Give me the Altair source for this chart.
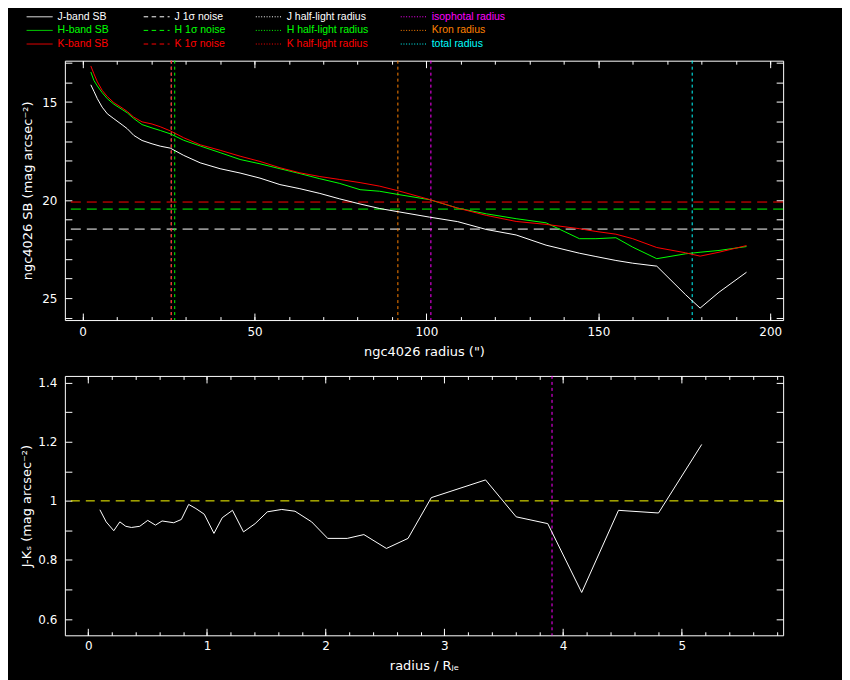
import altair as alt
import pandas as pd

# ---------------- top panel: surface-brightness profiles ----------------
R_SB = [2.4, 3.3, 4.3, 5.7, 7.2, 9.1, 11.5, 13.0, 14.9, 17.3, 20.2, 22.6, 25.5,
        29.4, 34.2, 40.0, 45.8, 51.6, 57.4, 63.2, 69.0, 74.8, 80.7, 86.4, 92.3,
        100.9, 109.1, 117.4, 126.1, 134.8, 144.5, 149.3, 155.1, 160.0, 167.0,
        175.4, 179.6, 185.1, 193.1]
J_SB = [14.12, 14.45, 14.83, 15.26, 15.60, 15.85, 16.16, 16.36, 16.70, 16.96,
        17.13, 17.25, 17.35, 17.72, 18.10, 18.40, 18.62, 18.88, 19.21, 19.42,
        19.66, 19.94, 20.20, 20.43, 20.61, 20.87, 21.10, 21.50, 21.78, 22.30,
        22.71, 22.88, 23.08, 23.22, 23.37, 24.83, 25.51, 24.70, 23.68]
H_SB = [13.47, 13.90, 14.18, 14.52, 14.83, 15.11, 15.38, 15.55, 15.84, 16.15,
        16.32, 16.45, 16.62, 16.95, 17.24, 17.58, 17.93, 18.15, 18.40, 18.65,
        18.91, 19.15, 19.47, 19.55, 19.73, 19.98, 20.41, 20.70, 20.95, 21.16,
        21.97, 21.97, 21.92, 22.40, 22.99, 22.74, 22.66, 22.57, 22.37]
K_SB = [13.16, 13.56, 13.97, 14.40, 14.72, 15.03, 15.30, 15.48, 15.77, 16.01,
        16.12, 16.26, 16.47, 16.82, 17.18, 17.46, 17.76, 18.03, 18.35, 18.61,
        18.80, 18.95, 19.11, 19.29, 19.55, 19.97, 20.41, 20.78, 21.09, 21.24,
        21.46, 21.60, 21.74, 21.97, 22.42, 22.69, 22.86, 22.66, 22.32]

NOISE_BAND = ["J", "H", "K"]
NOISE_LEVEL = [21.48, 20.46, 20.10]

RADIUS_NAMES = ["J half-light radius", "H half-light radius", "K half-light radius",
                "Kron radius", "isophotal radius", "total radius"]
RADIUS_VALUES = [25.8, 26.8, 25.8, 91.7, 101.3, 177.3]

# ---------------- bottom panel: colour profile ----------------
R_NORM = [0.098, 0.151, 0.215, 0.266, 0.316, 0.364, 0.434, 0.501, 0.566, 0.622,
          0.720, 0.784, 0.846, 0.907, 0.977, 1.059, 1.129, 1.215, 1.308, 1.406,
          1.509, 1.630, 1.742, 1.882, 2.017, 2.182, 2.322, 2.512, 2.694, 2.890,
          3.347, 3.605, 3.871, 4.157, 4.467, 4.804, 5.168]
J_MINUS_K = [0.970, 0.929, 0.899, 0.929, 0.914, 0.910, 0.914, 0.934, 0.918, 0.932,
             0.926, 0.937, 0.988, 0.974, 0.955, 0.890, 0.943, 0.968, 0.895, 0.923,
             0.963, 0.971, 0.965, 0.929, 0.873, 0.873, 0.886, 0.839, 0.873, 1.011,
             1.071, 0.946, 0.923, 0.690, 0.968, 0.959, 1.191]
COLOR_REF = [1.0]
ISO_NORM = [3.907]

# ---------------- legend ----------------
LEGEND_LABELS = ["J-band SB", "H-band SB", "K-band SB",
                 "J 1σ noise", "H 1σ noise", "K 1σ noise",
                 "J half-light radius", "H half-light radius", "K half-light radius",
                 "isophotal radius", "Kron radius", "total radius"]
LEGEND_STYLE = ["solid"] * 3 + ["dashed"] * 3 + ["dotted"] * 6
LEGEND_COL = [0, 0, 0, 1, 1, 1, 2, 2, 2, 3, 3, 3]
LEGEND_ROW = [0, 1, 2, 0, 1, 2, 0, 1, 2, 0, 1, 2]

# ---------------- styles ----------------
WHITE, GREEN, RED = "#ffffff", "#00ff00", "#ff0000"
MAGENTA, ORANGE, CYAN, YELLOW = "#ff00ff", "#ff8000", "#00ffff", "#ffff00"
LEGEND_COLORS = [WHITE, GREEN, RED, WHITE, GREEN, RED, WHITE, GREEN, RED,
                 MAGENTA, ORANGE, CYAN]
NOISE_COLORS = [WHITE, GREEN, RED]
RADIUS_COLORS = [WHITE, GREEN, RED, ORANGE, MAGENTA, CYAN]
FONT = "DejaVu Sans"
LEGEND_FONT = "Liberation Sans"
W, H = 720, 260
MAJ, MIN = 7, 3.5
DOT = [3, 3]
DASH = [10, 6]

sb_df = pd.DataFrame({"r": R_SB, "J": J_SB, "H": H_SB, "K": K_SB})
noise_df = pd.DataFrame({"band": NOISE_BAND, "level": NOISE_LEVEL})
rad_df = pd.DataFrame({"name": RADIUS_NAMES, "value": RADIUS_VALUES})
col_df = pd.DataFrame({"x": R_NORM, "jk": J_MINUS_K})
ref_df = pd.DataFrame({"v": COLOR_REF})
iso_df = pd.DataFrame({"v": ISO_NORM})
leg_df = pd.DataFrame({"label": LEGEND_LABELS, "style": LEGEND_STYLE,
                       "col": LEGEND_COL, "row": LEGEND_ROW})


def tick_axis(orient, values, size):
    return alt.Axis(orient=orient, values=values, tickSize=size, offset=-size,
                    labels=False, domain=False, grid=False, title=None,
                    ticks=True, tickColor="white", tickWidth=1)


def label_axis(orient, values, size, title, label_expr, label_pad, title_pad):
    return alt.Axis(orient=orient, values=values, tickSize=size, offset=-size,
                    labels=True, labelExpr=label_expr, format="~f",
                    labelColor="white", labelFont=FONT, labelFontSize=12,
                    labelPadding=label_pad, labelOverlap=False, labelFlush=False,
                    domain=False, grid=False, ticks=True, tickColor="white",
                    tickWidth=1, title=title, titleColor="white", titleFont=FONT,
                    titleFontSize=13, titleFontWeight="normal",
                    titlePadding=title_pad)


# ---------------- top panel ----------------
X_MAJ = [0, 50, 100, 150, 200]
X_MIN = list(range(0, 201, 10))
Y_TICKS = list(range(13, 27))

xs = alt.Scale(domain=[-5.15, 203.75], nice=False, zero=False)
ys = alt.Scale(domain=[12.89, 26.12], reverse=True, nice=False, zero=False)

j_line = alt.Chart(sb_df).mark_line(color=WHITE, strokeWidth=1).encode(
    x=alt.X("r:Q", scale=xs,
            axis=label_axis("bottom", X_MAJ, MAJ, 'ngc4026 radius (")',
                            "datum.label", 6, 9)),
    y=alt.Y("J:Q", scale=ys,
            axis=label_axis("left", Y_TICKS, MAJ, "ngc4026 SB (mag arcsec⁻²)",
                            "datum.value % 5 == 0 ? datum.label : ''", 8, 7)),
)
h_line = alt.Chart(sb_df).mark_line(color=GREEN, strokeWidth=1).encode(
    x=alt.X("r:Q", scale=xs, axis=tick_axis("bottom", X_MIN, MIN)),
    y=alt.Y("H:Q", scale=ys, axis=tick_axis("right", Y_TICKS, MAJ)),
)
k_line = alt.Chart(sb_df).mark_line(color=RED, strokeWidth=1).encode(
    x=alt.X("r:Q", scale=xs, axis=tick_axis("top", X_MAJ, MAJ)),
    y=alt.Y("K:Q", scale=ys, axis=None),
)
noise_rules = alt.Chart(noise_df).mark_rule(strokeWidth=1, strokeDash=DASH).encode(
    y=alt.Y("level:Q", scale=ys, axis=None),
    color=alt.Color("band:N", scale=alt.Scale(domain=NOISE_BAND, range=NOISE_COLORS),
                    legend=None),
)
radius_rules = alt.Chart(rad_df).mark_rule(strokeWidth=1, strokeDash=DOT).encode(
    x=alt.X("value:Q", scale=xs, axis=tick_axis("top", X_MIN, MIN)),
    color=alt.Color("name:N", scale=alt.Scale(domain=RADIUS_NAMES, range=RADIUS_COLORS),
                    legend=None),
)

top = alt.layer(noise_rules, radius_rules, j_line, h_line, k_line).resolve_axis(
    x="independent", y="independent").resolve_scale(color="independent").properties(
    width=W, height=H)

# ---------------- bottom panel ----------------
BX_MAJ = [0, 1, 2, 3, 4, 5]
BX_MIN = [round(0.2 * i, 1) for i in range(0, 30)]
BY_TICKS = [0.6, 0.7, 0.8, 0.9, 1.0, 1.1, 1.2, 1.3, 1.4]

bxs = alt.Scale(domain=[-0.197, 5.854], nice=False, zero=False)
bys = alt.Scale(domain=[0.545, 1.423], nice=False, zero=False)

jk_line = alt.Chart(col_df).mark_line(color=WHITE, strokeWidth=1).encode(
    x=alt.X("x:Q", scale=bxs,
            axis=label_axis("bottom", BX_MAJ, MAJ, "radius / Rⱼₑ",
                            "datum.label", 5, 8)),
    y=alt.Y("jk:Q", scale=bys,
            axis=label_axis("left", BY_TICKS, MAJ, "J-Kₛ (mag arcsec⁻²)",
                            "round(datum.value * 10) % 2 == 0 ? datum.label : ''",
                            8, 4)),
)
ref_rule = alt.Chart(ref_df).mark_rule(color=YELLOW, strokeWidth=1,
                                       strokeDash=[9, 6]).encode(
    y=alt.Y("v:Q", scale=bys, axis=tick_axis("right", BY_TICKS, MAJ)),
)
iso_rule = alt.Chart(iso_df).mark_rule(color=MAGENTA, strokeWidth=1,
                                       strokeDash=DOT).encode(
    x=alt.X("v:Q", scale=bxs, axis=tick_axis("bottom", BX_MIN, MIN)),
)
jk_top_major = alt.Chart(col_df).mark_line(opacity=0).encode(
    x=alt.X("x:Q", scale=bxs, axis=tick_axis("top", BX_MAJ, MAJ)),
    y=alt.Y("jk:Q", scale=bys, axis=None),
)
jk_top_minor = alt.Chart(col_df).mark_line(opacity=0).encode(
    x=alt.X("x:Q", scale=bxs, axis=tick_axis("top", BX_MIN, MIN)),
    y=alt.Y("jk:Q", scale=bys, axis=None),
)

bottom = alt.layer(ref_rule, iso_rule, jk_top_major, jk_top_minor, jk_line).resolve_axis(
    x="independent", y="independent").properties(width=W, height=H)

# ---------------- legend panel ----------------
lxs = alt.Scale(domain=[0, 1, 2, 3], range=[-38.3, 79, 191.4, 336.7])
lys = alt.Scale(domain=[-0.366, 2.564], reverse=True, nice=False, zero=False)
lcolor = alt.Color("label:N", scale=alt.Scale(domain=LEGEND_LABELS, range=LEGEND_COLORS),
                   legend=None)

leg_lines = alt.Chart(leg_df).mark_rule(strokeWidth=1, x2Offset=26).encode(
    x=alt.X("col:Q", scale=lxs, axis=None),
    x2="col:Q",
    y=alt.Y("row:Q", scale=lys, axis=None),
    color=lcolor,
    strokeDash=alt.StrokeDash("style:N", scale=alt.Scale(
        domain=["solid", "dashed", "dotted"], range=[[1, 0], [4.5, 3.5], [1, 1.7]]),
        legend=None),
)
leg_text = alt.Chart(leg_df).mark_text(align="left", baseline="middle", dx=31,
                                       font=LEGEND_FONT, fontSize=10.5).encode(
    x=alt.X("col:Q", scale=lxs, axis=None),
    y=alt.Y("row:Q", scale=lys, axis=None),
    text="label:N",
    color=lcolor,
)
legend = alt.layer(leg_lines, leg_text).properties(
    width=W, height=40, view=alt.ViewBackground(strokeOpacity=0))

chart = alt.vconcat(legend, alt.vconcat(top, bottom, spacing=15), spacing=4).properties(
    padding={"left": 12, "top": 2, "right": 58, "bottom": 6},
    background="black",
).configure_view(stroke="white", strokeWidth=1)

chart.save("out.html", embed_options={"renderer": "svg", "actions": False})
